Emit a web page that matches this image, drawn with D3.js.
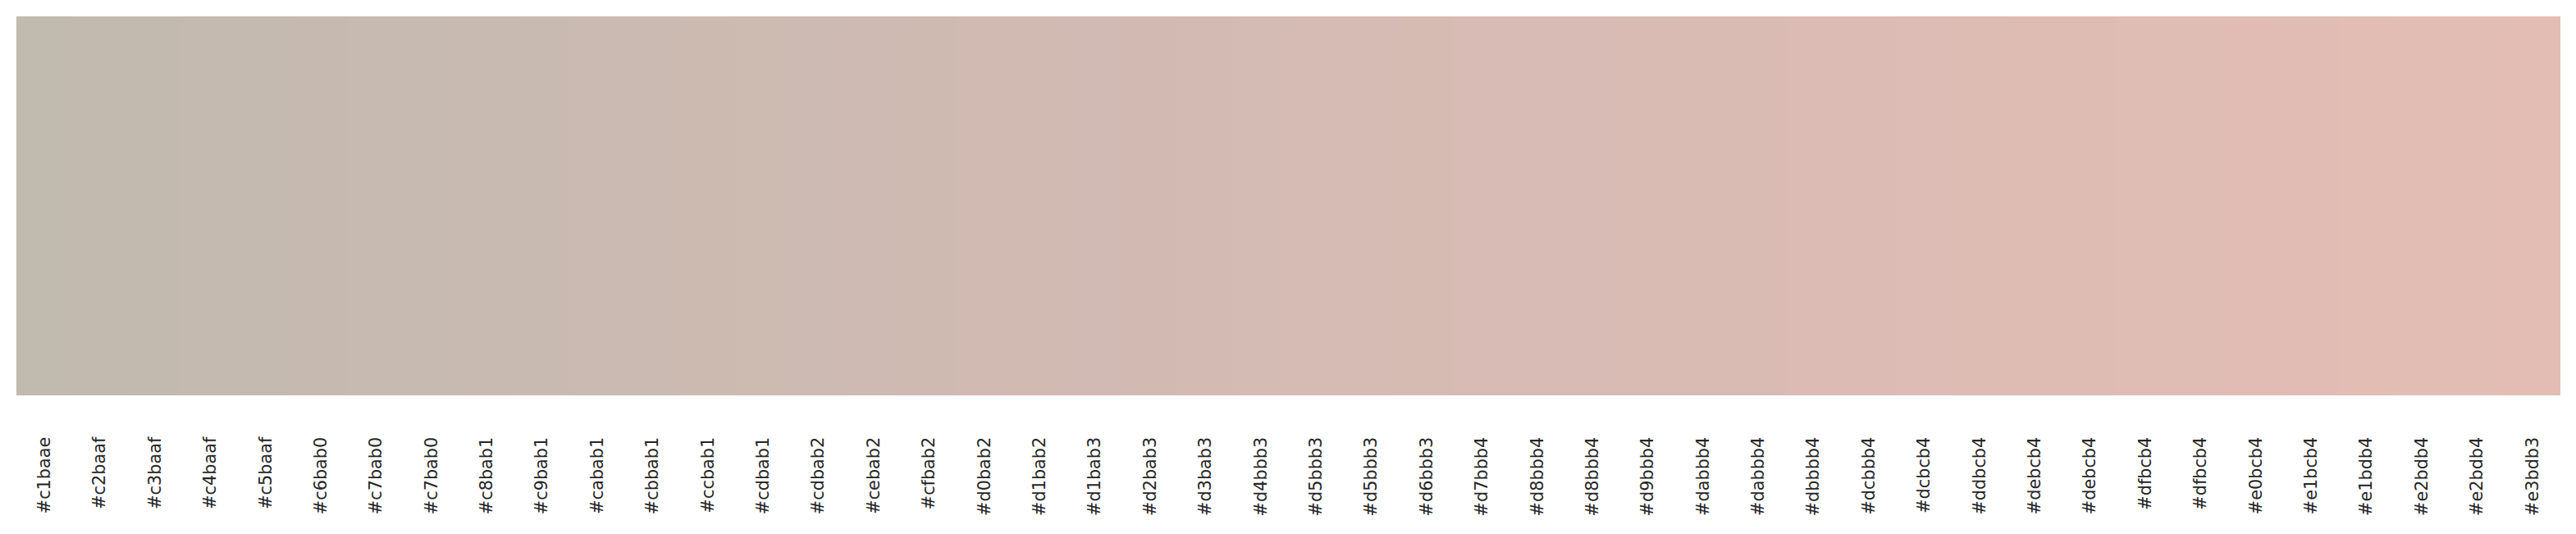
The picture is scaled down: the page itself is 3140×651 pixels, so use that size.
<!DOCTYPE html>
<html>
<head>
<meta charset="utf-8">
<script src="https://cdn.jsdelivr.net/npm/d3@7"></script>
<style>
  html, body { margin: 0; padding: 0; background: #fff; }
  svg { display: block; }
</style>
</head>
<body>
<div id="chart"></div>
<script>
// palette colours, left to right (also used as the tick labels)
const colors = [
  "#c1baae", "#c2baaf", "#c3baaf", "#c4baaf", "#c5baaf", "#c6bab0", "#c7bab0", "#c7bab0",
  "#c8bab1", "#c9bab1", "#cabab1", "#cbbab1", "#ccbab1", "#cdbab1", "#cdbab2", "#cebab2",
  "#cfbab2", "#d0bab2", "#d1bab2", "#d1bab3", "#d2bab3", "#d3bab3", "#d4bbb3", "#d5bbb3",
  "#d5bbb3", "#d6bbb3", "#d7bbb4", "#d8bbb4", "#d8bbb4", "#d9bbb4", "#dabbb4", "#dabbb4",
  "#dbbbb4", "#dcbbb4", "#dcbcb4", "#ddbcb4", "#debcb4", "#debcb4", "#dfbcb4", "#dfbcb4",
  "#e0bcb4", "#e1bcb4", "#e1bdb4", "#e2bdb4", "#e2bdb4", "#e3bdb3"
];
const indices = colors.map((c, i) => i);

const width = 3140, height = 651;
const margin = { top: 20, right: 20, bottom: 170, left: 20 };

const svg = d3.select("#chart").append("svg")
    .attr("width", width)
    .attr("height", height);

const x = d3.scaleBand()
    .domain(indices)
    .range([margin.left, width - margin.right])
    .padding(0);

const y = d3.scaleLinear()
    .domain([0, 1])
    .range([height - margin.bottom + 0.7, margin.top]);

// swatches
svg.append("g")
    .selectAll("rect")
    .data(indices)
    .join("rect")
    .attr("x", i => x(i))
    .attr("y", y(1))
    .attr("width", x.bandwidth() + 0.5)
    .attr("height", y(0) - y(1))
    .attr("fill", i => colors[i])
    .attr("shape-rendering", "crispEdges");

// rotated tick labels
const axis = d3.axisBottom(x)
    .tickSize(0)
    .tickPadding(0)
    .tickFormat(i => colors[i]);

const gx = svg.append("g")
    .attr("transform", `translate(0,${y(0) + 51})`)
    .call(axis);

gx.select(".domain").remove();
gx.selectAll("text")
    .attr("transform", "rotate(-90)")
    .attr("x", 0)
    .attr("y", 0)
    .attr("dy", "0.35em")
    .attr("text-anchor", "end")
    .attr("fill", "#262626")
    .style("font-family", "'DejaVu Sans', sans-serif")
    .style("font-size", "20.8px");
</script>
</body>
</html>
